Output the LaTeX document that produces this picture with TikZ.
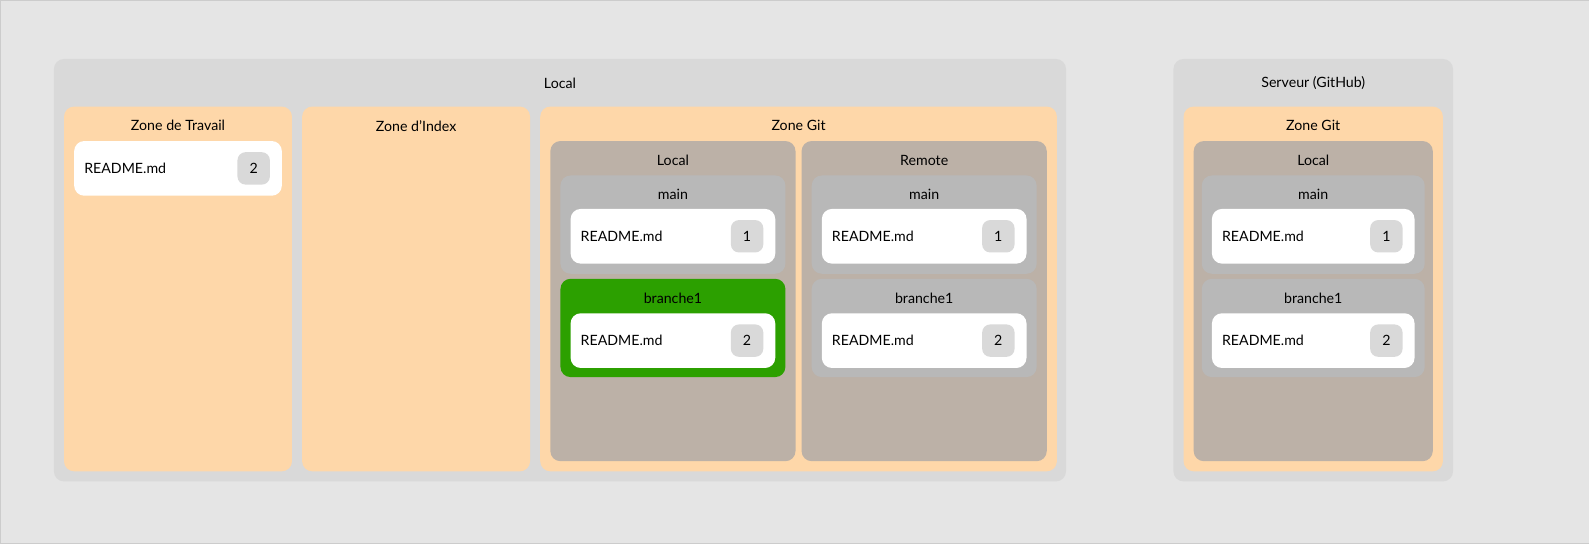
\documentclass[tikz,border=0pt]{standalone}
\usepackage{fontspec}
\setmainfont{Lato}
\usetikzlibrary{positioning}
\definecolor{bgcol}{HTML}{E5E5E5}
\definecolor{outercol}{HTML}{D9D9D9}
\definecolor{zonecol}{HTML}{FED7A9}
\definecolor{gitcol}{HTML}{BCB1A7}
\definecolor{branchcol}{HTML}{B8B8B8}
\definecolor{greencol}{HTML}{2CA000}
\definecolor{badgecol}{HTML}{D9D9D9}
\tikzset{
  box/.style = {anchor = north west, inner sep = 0pt, rounded corners = 10pt},
  title/.style = {font = \fontsize{14}{16}\selectfont, inner sep = 0pt},
  badge/.style = {fill = badgecol, rounded corners = 8pt, minimum width = 32pt,
    minimum height = 32pt, inner sep = 0pt, font = \fontsize{14}{16}\selectfont}
}
% file box: name, x, y, width, number
\newcommand{\filebox}[5]{
  \node (#1) [box, fill = white, minimum width = #4pt, minimum height = 54pt] at (#2, #3) {};
  \node (#1t) [title, anchor = west] at ([xshift = 10pt]#1.west) {README.md};
  \node (#1n) [badge] at ([xshift = -28pt]#1.east) {#5};
}
% branch box: name, x, y, width, colour, label
\newcommand{\branchbox}[6]{
  \node (#1) [box, fill = #5, minimum width = #4pt, minimum height = 97pt] at (#2, #3) {};
  \node (#1t) [title] at ([yshift = -19pt]#1.north) {#6};
}
\begin{document}
\begin{tikzpicture}[x = 1pt, y = -1pt]
\node (bg) [anchor = north west, draw = black!20, fill = bgcol, minimum width = 1568pt,
  minimum height = 536pt, inner sep = 0pt] at (0, 0) {};
\useasboundingbox (0, 0) rectangle (1568, 536);

% local machine
\node (loc) [box, fill = outercol, minimum width = 999pt, minimum height = 417pt] at (53, 58) {};
\node (loct) [title] at ([yshift = -24pt]loc.north) {Local};

\node (work) [box, fill = zonecol, minimum width = 225pt, minimum height = 360pt] at (63, 105) {};
\node (workt) [title] at ([yshift = -19pt]work.north) {Zone de Travail};
\filebox{workf}{73}{139}{205}{2}

\node (index) [box, fill = zonecol, minimum width = 225pt, minimum height = 360pt] at (298, 105) {};
\node (indext) [title] at ([yshift = -19pt]index.north) {Zone d’Index};

\node (git) [box, fill = zonecol, minimum width = 510pt, minimum height = 360pt] at (533, 105) {};
\node (gitt) [title] at ([yshift = -19pt]git.north) {Zone Git};

\node (gl) [box, fill = gitcol, minimum width = 242pt, minimum height = 316pt] at (543, 139) {};
\node (glt) [title] at ([yshift = -19pt]gl.north) {Local};
\branchbox{glm}{553}{173}{222}{branchcol}{main}
\filebox{glmf}{563}{206}{202}{1}
\branchbox{glb}{553}{275}{222}{greencol}{branche1}
\filebox{glbf}{563}{309}{202}{2}

\node (gr) [box, fill = gitcol, minimum width = 242pt, minimum height = 316pt] at (791, 139) {};
\node (grt) [title] at ([yshift = -19pt]gr.north) {Remote};
\branchbox{grm}{801}{173}{222}{branchcol}{main}
\filebox{grmf}{811}{206}{202}{1}
\branchbox{grb}{801}{275}{222}{branchcol}{branche1}
\filebox{grbf}{811}{309}{202}{2}

% server
\node (srv) [box, fill = outercol, minimum width = 276pt, minimum height = 417pt] at (1158, 58) {};
\node (srvt) [title] at ([yshift = -24pt]srv.north) {Serveur (GitHub)};
\node (sgit) [box, fill = zonecol, minimum width = 256pt, minimum height = 360pt] at (1168, 105) {};
\node (sgitt) [title] at ([yshift = -19pt]sgit.north) {Zone Git};
\node (sl) [box, fill = gitcol, minimum width = 236pt, minimum height = 316pt] at (1178, 139) {};
\node (slt) [title] at ([yshift = -19pt]sl.north) {Local};
\branchbox{slm}{1186}{173}{220}{branchcol}{main}
\filebox{slmf}{1196}{206}{200}{1}
\branchbox{slb}{1186}{275}{220}{branchcol}{branche1}
\filebox{slbf}{1196}{309}{200}{2}
\end{tikzpicture}
\end{document}
